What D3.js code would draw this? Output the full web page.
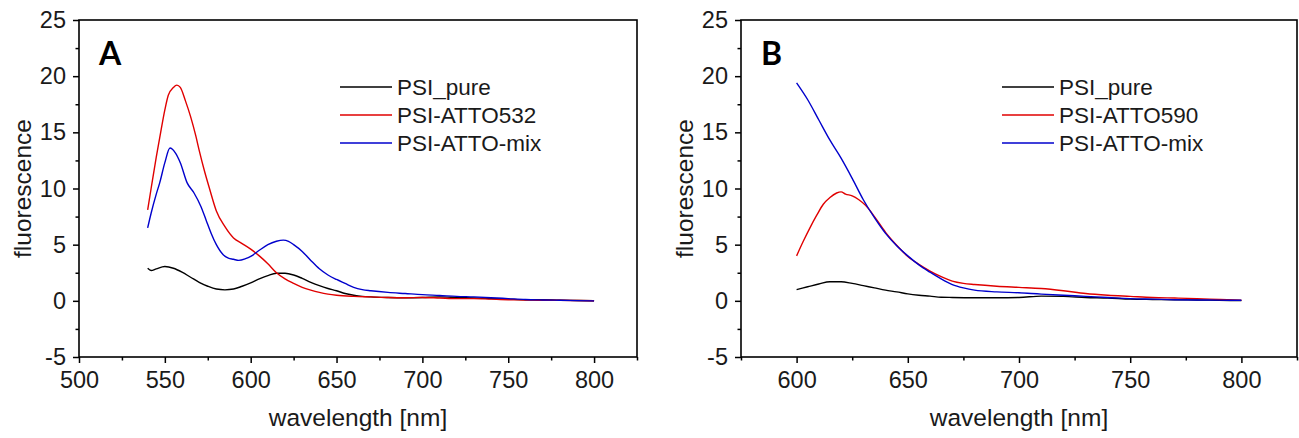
<!DOCTYPE html>
<html><head><meta charset="utf-8">
<script src="https://cdn.jsdelivr.net/npm/d3@7"></script>
<style>
html,body{margin:0;padding:0;background:#fff;}
text{font-family:"Liberation Sans",Arial,sans-serif;fill:#1a1a1a;}
</style></head>
<body><svg id="c" width="1299" height="438"></svg>
<script>
// ---------- DATA ----------
const panelLabels = ["A", "B"];
const xTicksA = [500, 550, 600, 650, 700, 750, 800];
const xTicksB = [600, 650, 700, 750, 800];
const yTicks = [-5, 0, 5, 10, 15, 20, 25];
const legendA = ["PSI_pure", "PSI-ATTO532", "PSI-ATTO-mix"];
const legendB = ["PSI_pure", "PSI-ATTO590", "PSI-ATTO-mix"];

// Panel A  [wavelength nm, fluorescence]
const A_pure = [[540,2.9],[542,2.7],[545,2.85],[550,3.05],[555,2.9],[560,2.55],[565,2.1],[570,1.65],[575,1.3],[580,1.05],[585,0.98],[590,1.05],[595,1.3],[600,1.6],[605,1.95],[610,2.25],[615,2.45],[620,2.45],[625,2.3],[630,2.0],[635,1.65],[640,1.35],[645,1.1],[650,0.9],[655,0.65],[660,0.5],[665,0.4],[670,0.35],[680,0.3],[690,0.28],[700,0.3],[710,0.35],[720,0.3],[730,0.25],[740,0.2],[750,0.15],[760,0.1],[770,0.1],[780,0.05],[790,0.03],[800,0.0]];
const A_atto532 = [[540,8.1],[542,10.0],[545,12.8],[547,14.5],[550,17.0],[552,18.3],[555,19.0],[557,19.2],[559,19.0],[562,17.8],[565,16.4],[568,14.7],[570,13.4],[573,11.6],[576,10.0],[580,8.0],[585,6.6],[590,5.6],[595,5.1],[600,4.6],[605,4.0],[610,3.3],[615,2.5],[620,1.95],[625,1.55],[630,1.2],[635,0.95],[640,0.75],[645,0.6],[650,0.5],[660,0.4],[670,0.35],[680,0.3],[690,0.28],[700,0.3],[710,0.25],[720,0.2],[730,0.2],[740,0.15],[750,0.1],[760,0.08],[770,0.05],[780,0.05],[790,0.03],[800,0.0]];
const A_mix = [[540,6.5],[542,7.8],[545,9.5],[547,10.5],[550,12.3],[553,13.6],[556,13.2],[559,12.3],[563,10.5],[567,9.6],[571,8.4],[574,7.2],[577,6.0],[580,5.0],[584,4.1],[587,3.8],[590,3.7],[593,3.6],[597,3.75],[600,3.95],[605,4.5],[610,5.0],[615,5.3],[619,5.4],[622,5.3],[625,5.0],[630,4.4],[635,3.6],[640,2.85],[645,2.3],[650,1.9],[655,1.55],[660,1.2],[665,1.0],[670,0.9],[680,0.75],[690,0.65],[700,0.55],[710,0.48],[720,0.4],[730,0.35],[740,0.28],[750,0.2],[760,0.12],[770,0.08],[780,0.05],[790,0.02],[800,0.0]];

// Panel B
const B_pure = [[600,1.0],[605,1.25],[610,1.5],[615,1.7],[620,1.7],[625,1.55],[630,1.35],[635,1.15],[640,0.95],[645,0.8],[650,0.62],[655,0.5],[660,0.42],[665,0.32],[670,0.3],[680,0.28],[690,0.28],[700,0.3],[710,0.42],[720,0.4],[730,0.3],[740,0.25],[750,0.15],[760,0.12],[770,0.1],[780,0.08],[790,0.05],[800,0.02]];
const B_atto590 = [[600,4.0],[603,5.3],[606,6.5],[609,7.6],[612,8.6],[615,9.2],[618,9.6],[620,9.7],[622,9.5],[625,9.35],[628,9.0],[631,8.5],[635,7.5],[640,6.1],[645,4.95],[650,3.95],[655,3.25],[660,2.65],[665,2.15],[670,1.75],[675,1.55],[680,1.45],[690,1.3],[700,1.2],[710,1.1],[720,0.9],[730,0.65],[740,0.5],[750,0.4],[760,0.3],[770,0.25],[780,0.2],[790,0.12],[800,0.05]];
const B_mix = [[600,19.4],[605,17.9],[610,16.1],[615,14.3],[620,12.7],[625,10.9],[630,9.0],[635,7.4],[640,6.0],[645,4.9],[650,4.0],[655,3.2],[660,2.55],[665,1.95],[670,1.45],[675,1.15],[680,0.95],[690,0.8],[700,0.72],[710,0.6],[720,0.5],[730,0.4],[740,0.3],[750,0.2],[760,0.15],[770,0.1],[780,0.08],[790,0.06],[800,0.05]];

const colors = ["#000000", "#e00000", "#0000cc"];

// ---------- DRAW ----------
const svg = d3.select("#c");
const plotTop = 20, plotBottom = 357;

function panel(cfg) {
  const x = d3.scaleLinear().domain(cfg.xDomain).range([cfg.left, cfg.right]);
  const y = d3.scaleLinear().domain([-5, 25]).range([plotBottom, plotTop]);
  const g = svg.append("g");

  const line = d3.line().x(d => x(d[0])).y(d => y(d[1])).curve(d3.curveMonotoneX);
  cfg.series.forEach((s, i) => {
    g.append("path").datum(s).attr("d", line)
      .attr("fill", "none").attr("stroke", colors[i]).attr("stroke-width", 1.4);
  });

  const fmt = d => String(d);
  const xMinor = d3.range(cfg.xDomain[0], cfg.xDomain[1] + 1, 25).filter(v => !cfg.xTicks.includes(v));
  const yMinor = d3.range(-2.5, 25, 5);
  const ax = d3.axisBottom(x).tickValues(cfg.xTicks).tickFormat(fmt).tickSize(6).tickSizeOuter(0).tickPadding(8);
  const axm = d3.axisBottom(x).tickValues(xMinor).tickSize(3.5).tickSizeOuter(0).tickFormat("");
  const ay = d3.axisLeft(y).tickValues(yTicks).tickFormat(fmt).tickSize(6).tickSizeOuter(0).tickPadding(7);
  const aym = d3.axisLeft(y).tickValues(yMinor).tickSize(3.5).tickSizeOuter(0).tickFormat("");
  [ax, axm].forEach(a => {
    const gg = g.append("g").attr("transform", `translate(0,${plotBottom})`).call(a);
    gg.select(".domain").remove();
  });
  [ay, aym].forEach(a => {
    const gg = g.append("g").attr("transform", `translate(${cfg.left},0)`).call(a);
    gg.select(".domain").remove();
  });
  g.selectAll(".tick line").attr("stroke", "#000").attr("stroke-width", 1.5);
  g.selectAll(".tick text").attr("font-size", 23.5).attr("fill", "#1a1a1a")
    .style("font-family", "'Liberation Sans', Arial, sans-serif");

  g.append("rect").attr("x", cfg.left).attr("y", plotTop)
    .attr("width", cfg.right - cfg.left).attr("height", plotBottom - plotTop)
    .attr("fill", "none").attr("stroke", "#000").attr("stroke-width", 1.6);

  g.append("text").attr("x", (cfg.left + cfg.right) / 2).attr("y", 426)
    .attr("text-anchor", "middle").attr("font-size", 24.5).text("wavelength [nm]");
  g.append("text").attr("transform", `translate(${cfg.left - 48},${(plotTop + plotBottom) / 2}) rotate(-90)`)
    .attr("text-anchor", "middle").attr("font-size", 24.5).text("fluorescence");

  g.append("text").attr("x", cfg.left + 20).attr("y", 65)
    .attr("font-size", 32).attr("font-weight", "bold")
    .style("font-family", "Lato, 'Liberation Sans', sans-serif").style("fill", "#000")
    .text(cfg.label);

  cfg.legend.forEach((name, i) => {
    const ly = 87 + i * 28;
    const lx = cfg.left + 261;
    g.append("line").attr("x1", lx).attr("x2", lx + 52).attr("y1", ly).attr("y2", ly)
      .attr("stroke", colors[i]).attr("stroke-width", 1.4);
    g.append("text").attr("x", lx + 57).attr("y", ly + 8).attr("font-size", 22.5).text(name);
  });
}

panel({left: 79, right: 637, xDomain: [500, 825], xTicks: xTicksA, series: [A_pure, A_atto532, A_mix], legend: legendA, label: panelLabels[0]});
panel({left: 741, right: 1297, xDomain: [575, 825], xTicks: xTicksB, series: [B_pure, B_atto590, B_mix], legend: legendB, label: panelLabels[1]});
</script>
</body></html>
